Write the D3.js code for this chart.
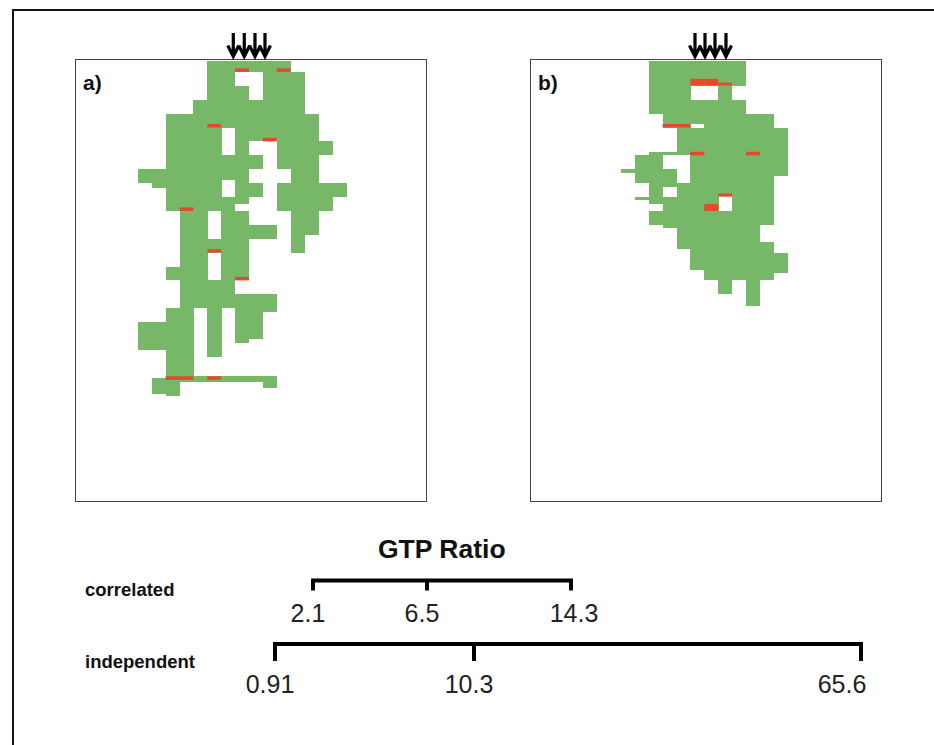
<!DOCTYPE html>
<html>
<head>
<meta charset="utf-8">
<script src="https://cdn.jsdelivr.net/npm/d3@7"></script>
<style>
  body { margin: 0; background: #fff; }
  svg { display: block; }
</style>
</head>
<body>
<svg id="chart"></svg>
<script>
// green cells, as vertical runs: [column, startRow, endRow] (rows are half-cell units)
const cellsA = [
  [0, 16, 18], [0, 38, 42],
  [1, 16, 18.7], [1, 38, 42], [1, 46, 48.3],
  [2, 8, 22], [2, 30, 32], [2, 36, 48.7],
  [3, 8, 46.55],
  [4, 6, 36], [4, 45.8, 46.55],
  [5, 0, 22], [5, 26, 28], [5, 32, 43], [5, 45.8, 46.55],
  [6, 0, 10], [6, 14, 17.6], [6, 20, 36], [6, 45.8, 46.55],
  [7, 0, 2], [7, 4, 21], [7, 22, 32], [7, 34, 41], [7, 45.8, 46.55],
  [8, 0, 2], [8, 6, 12], [8, 14, 16], [8, 18, 20], [8, 24, 26], [8, 34, 40.5], [8, 45.8, 46.55],
  [9, 0, 12], [9, 24, 26], [9, 34, 36.5], [9, 45.8, 47.5],
  [10, 0, 16], [10, 18, 22],
  [11, 2, 28],
  [12, 8, 25.5],
  [13, 12, 14], [13, 18, 22],
  [14, 18, 20]
];
// red (blocked) edges: [column, startRow, endRow]
const redA = [
  [7, 1.5, 2], [10, 1.5, 2], [5, 9.5, 10], [9, 11.5, 12], [3, 21.5, 22],
  [5, 27.5, 28], [7, 31.5, 32], [2, 45.8, 46.3], [3, 45.8, 46.3], [5, 45.8, 46.3]
];
const cellsB = [
  [0, 16, 16.6],
  [1, 14, 18], [1, 20, 20.45],
  [2, 0, 8], [2, 13.5, 21], [2, 22, 24],
  [3, 0, 10], [3, 13.5, 14], [3, 16, 18.6], [3, 20, 24.5],
  [4, 0, 14], [4, 18, 27.5],
  [5, 0, 4], [5, 6, 9.5], [5, 10, 30.5],
  [6, 0, 4], [6, 6, 32],
  [7, 0, 19.9], [7, 22, 34],
  [8, 0, 4], [8, 6, 32],
  [9, 8, 35.7],
  [10, 8, 24], [10, 26.5, 32],
  [11, 10, 17], [11, 28, 31]
];
const redB = [
  [3, 9.5, 10], [4, 9.5, 10], [5, 3, 3.95], [6, 3, 3.95], [7, 3.55, 3.95],
  [5, 13.5, 14], [9, 13.5, 14], [6, 21, 22], [7, 19.5, 19.95]
];
// injection arrows, in column units
const arrowsA = [6.87, 7.66, 8.43, 9.15];
const arrowsB = [5.33, 6.05, 6.77, 7.56];

const ratioTitle = "GTP Ratio";
const ratioRows = ["correlated", "independent"];
const correlatedTicks = [2.1, 6.5, 14.3];
const independentTicks = [0.91, 10.3, 65.6];

const width = 934, height = 745;
const green = "#76b768", red = "#e5482a";
const font = "'Liberation Sans', Arial, sans-serif";

const svg = d3.select("#chart")
  .attr("width", width)
  .attr("height", height)
  .style("font-family", font);

// outer frame (only left/top edges fall inside the picture)
svg.append("rect")
  .attr("x", 13).attr("y", 10)
  .attr("width", 960).attr("height", 780)
  .attr("fill", "none")
  .attr("stroke", "#111")
  .attr("stroke-width", 2);

const y = d3.scaleLinear().domain([0, 48]).range([58, 391.6]);

const panels = [
  { id: "a", label: "a)", left: 75, cells: cellsA, red: redA, arrows: arrowsA,
    x: d3.scaleLinear().domain([0, 15]).range([137.8, 346.3]) },
  { id: "b", label: "b)", left: 530, cells: cellsB, red: redB, arrows: arrowsB,
    x: d3.scaleLinear().domain([0, 13]).range([620.9, 801.6]) }
];
const panelTop = 60, panelW = 351, panelH = 442;

panels.forEach(p => {
  const cw = p.x(1) - p.x(0);

  svg.append("clipPath").attr("id", "clip-" + p.id)
    .append("rect")
    .attr("x", p.left).attr("y", panelTop + 1)
    .attr("width", panelW).attr("height", panelH);

  const g = svg.append("g").attr("clip-path", `url(#clip-${p.id})`);

  g.selectAll("rect.cell")
    .data(p.cells)
    .join("rect")
    .attr("class", "cell")
    .attr("x", d => p.x(d[0]))
    .attr("y", d => y(d[1]))
    .attr("width", cw + 0.3)
    .attr("height", d => y(d[2]) - y(d[1]))
    .attr("fill", green)
    .attr("shape-rendering", "crispEdges");

  g.selectAll("rect.red")
    .data(p.red)
    .join("rect")
    .attr("class", "red")
    .attr("x", d => p.x(d[0]))
    .attr("y", d => y(d[1]))
    .attr("width", cw)
    .attr("height", d => y(d[2]) - y(d[1]))
    .attr("fill", red);

  // panel frame
  svg.append("rect")
    .attr("x", p.left + 0.5).attr("y", panelTop - 0.5)
    .attr("width", panelW).attr("height", panelH)
    .attr("fill", "none")
    .attr("stroke", "#444")
    .attr("stroke-width", 1);

  svg.append("text")
    .attr("x", p.left + 8)
    .attr("y", panelTop + 30)
    .attr("font-size", 21)
    .attr("font-weight", "bold")
    .attr("fill", "#111")
    .text(p.label);

  // arrows above the panel
  svg.append("g")
    .selectAll("path")
    .data(p.arrows)
    .join("path")
    .attr("d", d => {
      const ax = p.x(d);
      return `M${ax},33V55M${ax - 5.5},45.5L${ax},56.5L${ax + 5.5},45.5`;
    })
    .attr("fill", "none")
    .attr("stroke", "#000")
    .attr("stroke-width", 3.2);
});

// GTP ratio brackets
const ratioX = d3.scaleLinear()
  .domain([0.91, 2.1, 6.5, 10.3, 14.3, 65.6])
  .range([275, 313, 427, 474, 571, 861]);

svg.append("text")
  .attr("x", 378)
  .attr("y", 558)
  .attr("font-size", 26.5)
  .attr("font-weight", "bold")
  .attr("fill", "#111")
  .text(ratioTitle);

const brackets = [
  { name: ratioRows[0], ticks: correlatedTicks, lineY: 580.5, tickLen: 10, nameY: 596, labelY: 621.5, lastDx: 3 },
  { name: ratioRows[1], ticks: independentTicks, lineY: 644, tickLen: 17, nameY: 668, labelY: 693, lastDx: -19 }
];

brackets.forEach(b => {
  const [x0, x1] = d3.extent(b.ticks).map(ratioX);
  svg.append("text")
    .attr("x", 85)
    .attr("y", b.nameY)
    .attr("font-size", 18.5)
    .attr("font-weight", "bold")
    .attr("fill", "#111")
    .text(b.name);

  svg.append("path")
    .attr("d", `M${x0},${b.lineY + b.tickLen}V${b.lineY}H${x1}V${b.lineY + b.tickLen}`)
    .attr("fill", "none")
    .attr("stroke", "#000")
    .attr("stroke-width", 4)
    .attr("stroke-linejoin", "miter");

  svg.append("g")
    .selectAll("line")
    .data(b.ticks.slice(1, -1))
    .join("line")
    .attr("x1", d => ratioX(d)).attr("x2", d => ratioX(d))
    .attr("y1", b.lineY).attr("y2", b.lineY + b.tickLen)
    .attr("stroke", "#000")
    .attr("stroke-width", 4);

  svg.append("g")
    .selectAll("text")
    .data(b.ticks)
    .join("text")
    .attr("x", (d, i) => ratioX(d) + (i === b.ticks.length - 1 ? b.lastDx : -5))
    .attr("y", b.labelY)
    .attr("text-anchor", "middle")
    .attr("font-size", 25)
    .attr("fill", "#222")
    .text(d => d);
});
</script>
</body>
</html>
